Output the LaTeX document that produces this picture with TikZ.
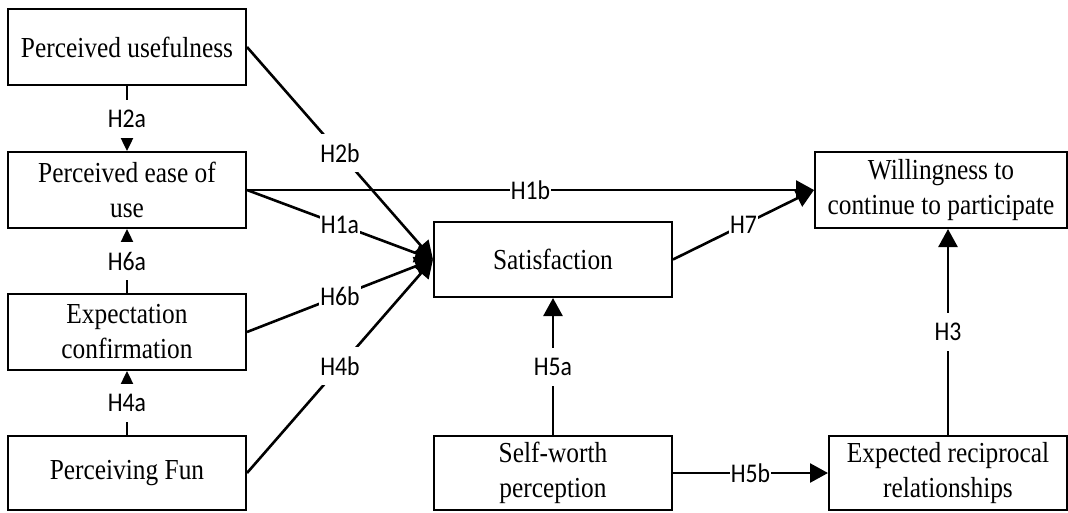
\documentclass[tikz,border=0pt]{standalone}
\usepackage{fontspec}
\setmainfont[FakeStretch=0.875]{Liberation Serif}
\newfontfamily\labfont[FakeStretch=0.88]{Carlito}
\usetikzlibrary{arrows.meta}
\tikzset{
  box/.style={draw=black, line width=2pt, fill=white, minimum width=238pt, minimum height=76pt,
    align=center, inner sep=0pt, font=\fontsize{29}{35}\selectfont},
  conn/.style={line width=2.6pt, -{Triangle[length=18pt,width=19pt]}},
  sconn/.style={line width=2.4pt, -{Triangle[length=14pt,width=13pt]}},
  hyp/.style={fill=white, inner xsep=1pt, inner ysep=0pt, minimum height=38pt,
    font=\labfont\fontsize{27}{30}\selectfont}
}
\begin{document}
\begin{tikzpicture}[x=1pt,y=-1pt]
\useasboundingbox[fill=white] (0,0) rectangle (1068,512);
% boxes
\node[box] (pu) at (127,47) {Perceived usefulness};
\node[box] (pe) at (127,190) {Perceived ease of\\use};
\node[box] (ec) at (127,332) {Expectation\\confirmation};
\node[box, minimum height=74pt] (pf) at (127,473) {Perceiving Fun};
\node[box, minimum height=75pt] (sat) at (553,259.5) {Satisfaction};
\node[box, minimum height=74pt] (sw) at (553,473) {Self-worth\\perception};
\node[box, minimum width=252pt] (will) at (941,190) {Willingness to\\continue to participate};
\node[box, minimum height=74pt] (exp) at (948,473) {Expected reciprocal\\relationships};
% connectors
\draw[sconn] (pu.south) -- node[hyp] (l2a) {H2a} (pe.north);
\draw[sconn] (ec.north) -- node[hyp] (l6a) {H6a} (pe.south);
\draw[sconn] (pf.north) -- node[hyp] (l4a) {H4a} (ec.south);
\draw[conn] (pe.east) -- node[hyp] (l1b) {H1b} (will.west);
\draw[conn] (pu.east) -- node[hyp] (l2b) {H2b} (sat.west);
\draw[conn] (pe.east) -- node[hyp] (l1a) {H1a} (sat.west);
\draw[conn] (ec.east) -- node[hyp] (l6b) {H6b} (sat.west);
\draw[conn] (pf.east) -- node[hyp] (l4b) {H4b} (sat.west);
\draw[conn] (sat.east) -- node[hyp] (l7) {H7} (will.west);
\draw[conn] (sw.north) -- node[hyp] (l5a) {H5a} (sat.south);
\draw[conn] (sw.east) -- node[hyp] (l5b) {H5b} (exp.west);
\draw[conn] (exp.north) -- node[hyp] (l3) {H3} (exp.north |- will.south);
\end{tikzpicture}
\end{document}
